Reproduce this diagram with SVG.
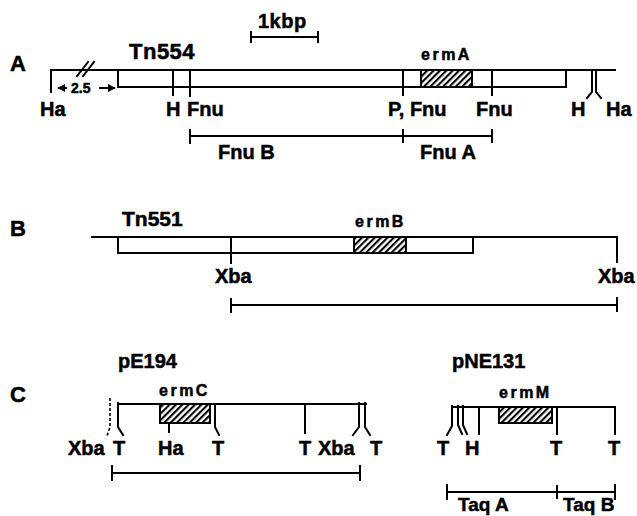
<svg xmlns="http://www.w3.org/2000/svg" width="637" height="516" viewBox="0 0 637 516">
<defs>
<pattern id="hatch" width="4.5" height="4.5" patternUnits="userSpaceOnUse" patternTransform="rotate(45)">
<rect width="4.5" height="4.5" fill="#fff"/>
<line x1="1" y1="0" x2="1" y2="4.5" stroke="#000" stroke-width="2.2"/>
</pattern>
<marker id="ah" viewBox="0 0 10 10" refX="9" refY="5" markerWidth="4" markerHeight="4" orient="auto-start-reverse" markerUnits="strokeWidth">
<path d="M0,0 L10,5 L0,10 z" fill="#000"/>
</marker>
<style>
.ln{stroke:#000;stroke-width:2;fill:none;stroke-linecap:square}
.hb{fill:url(#hatch);stroke:#000;stroke-width:2}
.t{font-family:"Liberation Sans",Arial,Helvetica,sans-serif;font-weight:bold;fill:#000;stroke:#000;stroke-width:0.5}
.lab{font-size:20px}
.big{font-size:22px}
.gene{font-size:16px;letter-spacing:2.5px}
.dash{stroke:#000;stroke-width:1.6;fill:none;stroke-dasharray:3,2}
</style>
</defs>
<rect width="637" height="516" fill="#fff"/>

<!-- Panel letters and titles -->
<text class="t big" x="10" y="71">A</text>
<text class="t big" x="10" y="236">B</text>
<text class="t big" x="10" y="402">C</text>

<g id="scale">
<text class="t" x="258" y="28" font-size="20" letter-spacing="0.5">1kbp</text>
<path class="ln" d="M251,37 H318 M251,32 V42 M318,32 V42"/>
</g>

<!-- Panel A -->
<g id="tn554">
<text class="t big" x="129" y="59" letter-spacing="0.5">Tn554</text>
<path class="ln" d="M51,92 V70 H615"/>
<path class="ln" d="M118,70 V87 H566 V70"/>
<path class="ln" stroke-width="1.6" d="M77,76 L88,62 M83,76 L94,62"/>
<line x1="58" y1="88" x2="67" y2="88" stroke="#000" stroke-width="2" marker-start="url(#ah)"/>
<text class="t" x="71" y="93" font-size="14">2.5</text>
<line x1="99" y1="88" x2="115" y2="88" stroke="#000" stroke-width="2" marker-end="url(#ah)"/>
</g>
<g id="ermA">
<rect class="hb" x="421" y="70" width="51" height="17"/>
<text class="t gene" x="421" y="60">ermA</text>
</g>
<g id="sitesA">
<path class="ln" d="M173,70 V95 M190,70 V96 M403,70 V95 M492,70 V95"/>
<path class="ln" stroke-linecap="butt" d="M592,70 V92 L587,98 M596,70 V92 L601,98"/>
<text class="t lab" x="40" y="116">Ha</text>
<text class="t lab" x="166" y="116">H</text>
<text class="t lab" x="187" y="116">Fnu</text>
<text class="t lab" x="388" y="116">P, Fnu</text>
<text class="t lab" x="476" y="116">Fnu</text>
<text class="t lab" x="571" y="116">H</text>
<text class="t lab" x="606" y="116">Ha</text>
</g>
<g id="fragA">
<path class="ln" d="M190,136 H492 M190,130 V143 M403,130 V142 M492,130 V142"/>
<text class="t lab" x="218" y="159">Fnu B</text>
<text class="t lab" x="420" y="159">Fnu A</text>
</g>

<!-- Panel B -->
<g id="tn551">
<text class="t" x="122" y="226" font-size="21">Tn551</text>
<path class="ln" d="M92,237 H617 V262"/>
<path class="ln" d="M118,237 V253 H473 V237"/>
<path class="ln" d="M231,237 V263"/>
</g>
<g id="ermB">
<rect class="hb" x="354" y="237" width="52" height="16"/>
<text class="t gene" x="355" y="227">ermB</text>
</g>
<g id="sitesB">
<text class="t lab" x="215" y="283">Xba</text>
<text class="t lab" x="598" y="283">Xba</text>
<path class="ln" d="M231,305 H617 M231,299 V312 M617,298 V311"/>
</g>

<!-- Panel C: pE194 -->
<g id="pE194">
<text class="t lab" x="118" y="368">pE194</text>
<path class="ln" d="M118,404 H366"/>
<path class="dash" d="M110,398 V427 L107,436"/>
<path class="ln" stroke-linecap="butt" d="M118,403 V427 L123,435"/>
<path class="ln" stroke-linecap="butt" d="M215,404 V427 L219,435"/>
<path class="ln" d="M305,404 V433"/>
<path class="ln" stroke-linecap="butt" d="M359,403 V427 L353,435 M365,403 V427 L370,435"/>
</g>
<g id="ermC">
<rect class="hb" x="160" y="404" width="50" height="19"/>
<path class="ln" d="M169,423 V432"/>
<text class="t gene" x="159" y="396">ermC</text>
</g>
<g id="sitesC1">
<text class="t lab" x="68" y="455">Xba</text>
<text class="t lab" x="113" y="455">T</text>
<text class="t lab" x="158" y="455">Ha</text>
<text class="t lab" x="212" y="455">T</text>
<text class="t lab" x="299" y="455">T</text>
<text class="t lab" x="318" y="455">Xba</text>
<text class="t lab" x="370" y="455">T</text>
<path class="ln" d="M112,473 H360 M112,466 V480 M360,466 V480"/>
</g>

<!-- Panel C: pNE131 -->
<g id="pNE131">
<text class="t lab" x="452" y="368">pNE131</text>
<path class="ln" d="M452,407 H615 V434"/>
<path class="ln" stroke-linecap="butt" d="M452,406 V426 L447,435 M458,406 V425 L462,434 M463,406 V425 L467,434 M479,407 V434"/>
<path class="ln" d="M557,407 V434"/>
</g>
<g id="ermM">
<rect class="hb" x="499" y="407" width="53" height="16"/>
<text class="t gene" x="499" y="398">ermM</text>
</g>
<g id="sitesC2">
<text class="t lab" x="437" y="455">T</text>
<text class="t lab" x="465" y="455">H</text>
<text class="t lab" x="550" y="455">T</text>
<text class="t lab" x="608" y="455">T</text>
<path class="ln" d="M447,492 H615 M447,485 V499 M557,486 V498 M615,485 V499"/>
<text class="t" x="458" y="511" font-size="19">Taq A</text>
<text class="t" x="563" y="511" font-size="19">Taq B</text>
</g>
</svg>
